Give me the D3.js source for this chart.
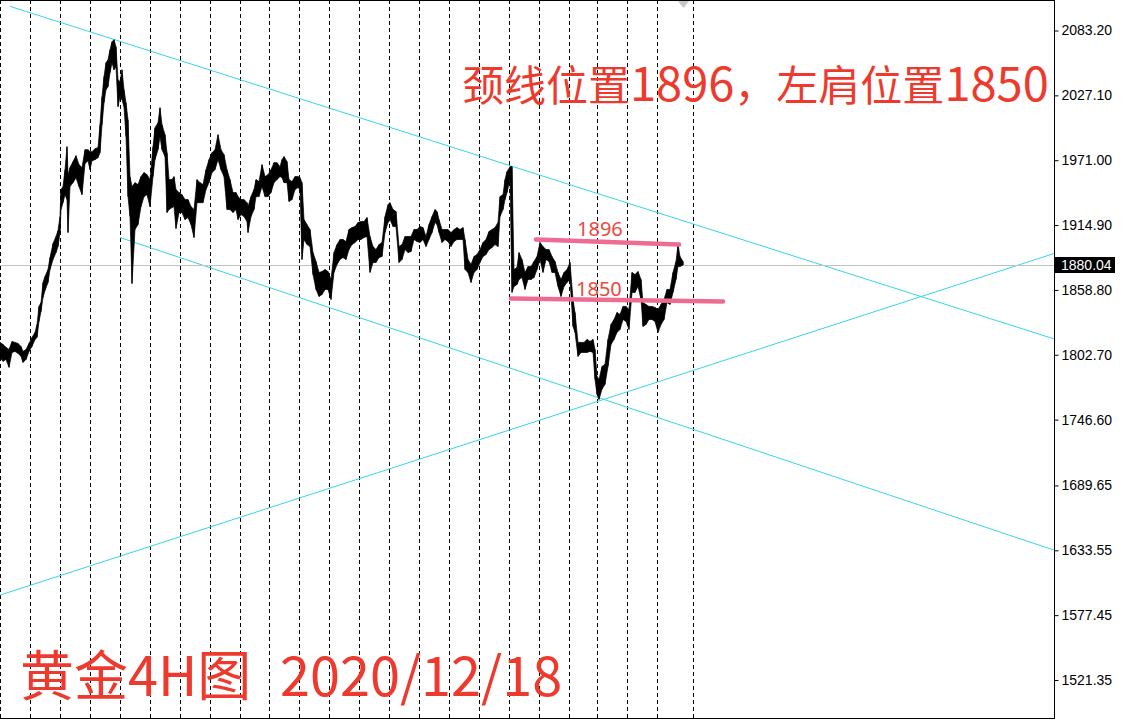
<!DOCTYPE html>
<html><head><meta charset="utf-8">
<script src="https://cdn.jsdelivr.net/npm/d3@7"></script>
<style>html,body{margin:0;padding:0;background:#fff;overflow:hidden}</style>
</head><body><svg id="c" width="1128" height="720"></svg>
<script>
// ---- data (bar index along the 4H time line, prices in USD) ----
const barIdx=[0,3,6,9,12,15,18,21,23,26,29,32,35,37,39,41,43,45,48,50,53,56,58,60,61,63,65,67,68,70,73,76,79,82,85,88,90,92,95,98,100,102,104,106,108,110,112,114,116,118,120,122,124,126,128,130,132,135,138,141,144,147,150,153,155,158,160,162,165,167,169,172,174,176,179,182,185,188,191,194,197,200,203,206,209,212,215,218,221,224,227,230,233,236,238,241,244,247,248,251,254,256,259,262,265,268,271,274,277,280,282,284,287,289,292,295,298,300,302,304,307,310,313,316,319,322,325,328,331,334,337,340,343,346,349,352,355,358,361,364,367,370,373,376,379,382,385,388,390,393,396,399,402,405,408,411,414,417,420,423,426,429,432,435,437,439,442,445,448,451,454,457,460,463,465,468,471,474,477,480,483,486,489,492,495,498,500,503,505,507,510,512,514,517,519,522,525,528,531,534,537,540,543,546,549,552,555,558,561,564,567,570,573,575,578,581,584,587,590,593,595,597,599,602,605,608,611,614,617,620,623,626,629,632,635,638,641,643,646,649,652,655,658,661,664,667,670,673,676,678,680,683];
const highs=[1813.4,1811.6,1809.1,1807.3,1814.2,1813.4,1812.5,1809.9,1805.6,1807.3,1812.5,1817.7,1822.0,1828.9,1844.5,1847.9,1865.2,1870.4,1876.4,1886.8,1898.9,1905.0,1910.1,1922.2,1945.6,1948.2,1962.8,1982.7,1958.5,1964.6,1969.8,1974.9,1967.2,1964.6,1980.1,1980.1,1978.4,1978.4,1981.0,1981.9,2001.7,2025.9,2043.2,2055.3,2057.9,2066.5,2073.4,2075.2,2069.1,2040.6,2038.9,2049.2,2032.0,2020.7,2006.0,1956.8,1948.2,1951.6,1949.9,1956.8,1960.3,1958.5,1954.2,1982.7,1999.1,2003.5,2016.4,2001.7,1993.1,1977.5,1954.2,1954.2,1956.8,1945.6,1943.0,1941.2,1936.9,1936.9,1930.9,1928.3,1954.2,1951.6,1949.9,1962.8,1971.5,1977.5,1980.1,1993.1,1980.1,1975.8,1962.8,1954.2,1943.0,1943.0,1939.5,1936.9,1936.9,1934.3,1930.9,1939.5,1945.6,1954.2,1952.5,1967.2,1956.8,1958.5,1962.8,1968.9,1968.9,1965.4,1971.5,1974.1,1969.8,1954.2,1952.5,1956.8,1956.8,1955.9,1951.6,1919.6,1915.3,1911.0,1891.1,1883.4,1873.9,1874.7,1876.4,1874.7,1867.8,1891.1,1898.0,1902.4,1902.4,1900.6,1911.0,1912.7,1913.6,1917.1,1917.9,1917.9,1921.4,1905.0,1896.3,1893.7,1898.0,1899.8,1922.2,1932.6,1934.3,1928.3,1926.6,1896.3,1898.0,1905.0,1905.0,1905.0,1911.0,1911.0,1913.6,1912.7,1905.0,1915.3,1922.2,1928.3,1926.6,1919.6,1911.0,1911.0,1911.0,1908.4,1911.0,1912.7,1911.0,1912.7,1902.4,1885.1,1880.8,1887.7,1889.4,1893.7,1899.8,1902.4,1909.3,1911.0,1912.7,1917.1,1939.5,1941.2,1954.2,1961.1,1965.4,1965.4,1876.4,1878.2,1891.1,1885.1,1873.9,1879.0,1879.0,1883.4,1887.7,1899.8,1896.3,1893.7,1893.7,1887.7,1883.4,1873.9,1867.8,1873.9,1876.4,1882.5,1850.5,1839.3,1813.4,1813.4,1813.4,1816.0,1814.2,1816.0,1807.3,1784.0,1781.4,1792.6,1794.4,1816.0,1828.9,1833.2,1839.3,1837.6,1844.5,1844.5,1841.9,1873.9,1872.1,1874.7,1867.8,1847.9,1846.2,1844.5,1844.5,1843.6,1841.9,1846.2,1850.5,1859.2,1859.2,1873.9,1883.4,1898.0,1887.7,1883.4];
const lows=[1800.4,1797.0,1798.7,1791.8,1804.7,1805.6,1803.9,1801.3,1796.1,1798.7,1805.6,1809.9,1816.0,1817.7,1831.5,1840.2,1852.3,1858.3,1865.2,1876.4,1885.1,1891.1,1896.3,1908.4,1928.3,1934.3,1941.2,1936.9,1908.4,1948.2,1951.6,1955.9,1948.2,1941.2,1968.0,1970.6,1962.8,1970.6,1971.5,1973.2,1977.5,2001.7,2020.7,2032.0,2034.6,2046.7,2055.3,2049.2,2051.8,2017.3,2025.9,2023.3,2017.3,1991.4,1939.5,1922.2,1864.3,1911.0,1915.3,1930.9,1939.5,1941.2,1930.9,1956.8,1971.5,1980.1,1991.4,1980.1,1974.1,1925.7,1928.3,1930.0,1930.9,1911.9,1925.7,1925.7,1919.6,1921.4,1915.3,1904.1,1934.3,1934.3,1934.3,1945.6,1951.6,1960.3,1962.8,1971.5,1962.8,1956.8,1928.3,1928.3,1925.7,1928.3,1919.6,1924.0,1922.2,1917.9,1908.4,1922.2,1928.3,1939.5,1939.5,1948.2,1939.5,1939.5,1943.0,1951.6,1954.2,1956.8,1955.9,1951.6,1951.6,1935.2,1936.9,1945.6,1947.3,1945.6,1885.1,1902.4,1898.0,1896.3,1872.1,1859.2,1853.1,1854.8,1859.2,1859.2,1850.5,1873.9,1880.8,1885.1,1886.8,1885.1,1893.7,1898.0,1899.8,1902.4,1902.4,1904.1,1905.0,1873.9,1882.5,1882.5,1886.8,1887.7,1908.4,1917.1,1919.6,1913.6,1913.6,1882.5,1885.1,1893.7,1891.1,1892.0,1902.4,1900.6,1899.8,1902.4,1896.3,1902.4,1908.4,1917.1,1915.3,1908.4,1899.8,1902.4,1900.6,1896.3,1900.6,1902.4,1902.4,1902.4,1876.4,1873.9,1865.2,1873.9,1876.4,1882.5,1887.7,1889.4,1893.7,1895.4,1898.0,1896.3,1922.2,1928.3,1936.9,1943.0,1954.2,1856.6,1861.8,1863.5,1867.8,1869.5,1859.2,1867.8,1867.8,1869.5,1876.4,1885.1,1873.9,1885.1,1883.4,1873.9,1873.9,1861.8,1853.1,1861.8,1865.2,1867.8,1827.2,1822.0,1801.3,1804.7,1804.7,1804.7,1805.6,1804.7,1781.4,1768.4,1764.1,1772.8,1777.1,1792.6,1811.6,1816.0,1822.0,1824.6,1833.2,1831.5,1824.6,1856.6,1856.6,1861.8,1850.5,1827.2,1828.9,1833.2,1833.2,1831.5,1822.0,1828.9,1833.2,1847.9,1846.2,1856.6,1867.8,1879.0,1879.0,1880.3];
const lastPrice=1880.04;
const priceTicks=[2083.20,2027.10,1971.00,1914.90,1858.80,1802.70,1746.60,1689.65,1633.55,1577.45,1521.35];
const separatorBars=[0,30,60,90,120,150,180,210,240,269,299,329,359,389,419,449,479,509,539,569,597,627,657,693];
const trendUpper=[[10,2104.1],[1054,1816.4]];
const trendLower=[[120,1904.1],[1054,1633.7]];
const trendRise=[[0,1594.8],[1054,1890.3]];
const necklineLine=[[536,1902.4],[679,1898.0]];
const shoulderLine=[[511,1851.4],[723,1848.8]];
const necklineLabel={text:"1896",bar:577,price:1905.4};
const shoulderLabel={text:"1850",bar:576,price:1853.5};
const titleParts=[["颈线位置",0],["1896",1],["，左肩位置",0],["1850",1]];
const footerName="黄金4H图";
const footerDate="2020/12/18";

// ---- drawing ----
const svg=d3.select("#c");
const plotR=1054, plotB=718;
const x=d3.scaleLinear().domain([0,1054]).range([0,1054]);
const y=d3.scaleLinear().domain([1521.35,2083.20]).range([680,30.5]);
const red="#ee3a2e";

svg.append("rect").attr("width",1128).attr("height",720).attr("fill","#fff");

// period separators
svg.append("g").selectAll("line").data(separatorBars).join("line")
  .attr("x1",d=>Math.round(x(d))+0.5).attr("x2",d=>Math.round(x(d))+0.5)
  .attr("y1",0).attr("y2",plotB)
  .attr("stroke","#000").attr("stroke-width",1).attr("stroke-dasharray","4,3")
  .attr("shape-rendering","crispEdges");

// trend lines
const ln=d3.line().x(d=>x(d[0])).y(d=>y(d[1]));
svg.append("g").selectAll("path").data([trendUpper,trendLower,trendRise]).join("path")
  .attr("d",ln).attr("fill","none").attr("stroke","#34d6e8").attr("stroke-width",1);

// last price line
svg.append("line").attr("x1",0).attr("x2",plotR).attr("y1",Math.round(y(lastPrice))+0.5).attr("y2",Math.round(y(lastPrice))+0.5)
  .attr("stroke","#c0c0c0").attr("stroke-width",1).attr("shape-rendering","crispEdges");

// price bars (high-low band)
const area=d3.area().x((d,i)=>x(barIdx[i])).y0((d,i)=>y(lows[i])).y1((d,i)=>y(highs[i]));
svg.append("path").datum(barIdx).attr("d",area).attr("fill","#000").attr("stroke","#000").attr("stroke-width",0.7).attr("stroke-linejoin","round");
svg.append("g").selectAll("line").data(barIdx).join("line")
  .attr("x1",d=>x(d)).attr("x2",d=>x(d))
  .attr("y1",(d,i)=>y(highs[i])).attr("y2",(d,i)=>y(lows[i]))
  .attr("stroke","#000").attr("stroke-width",1);

// pink annotation lines
svg.append("g").selectAll("path").data([necklineLine,shoulderLine]).join("path")
  .attr("d",ln).attr("fill","none").attr("stroke","#ee6c93").attr("stroke-width",4.5).attr("stroke-linecap","round");
svg.append("g").selectAll("text").data([necklineLabel,shoulderLabel]).join("text")
  .attr("x",d=>x(d.bar)).attr("y",d=>y(d.price))
  .attr("font-family","'Noto Sans',sans-serif").attr("font-size",20).attr("fill","#e94a40")
  .text(d=>d.text);

// title
const t=svg.append("text").attr("x",462).attr("y",101).attr("font-family","'Noto Sans CJK SC',sans-serif").attr("fill",red);
titleParts.forEach(p=>t.append("tspan").attr("font-size",p[1]?47:42).text(p[0]));

// footer
svg.append("text").attr("x",20).attr("y",696).attr("font-family","'Noto Sans CJK SC',sans-serif").attr("font-size",54).attr("fill",red).text(footerName);
svg.append("text").attr("x",280).attr("y",696).attr("font-family","'Noto Sans CJK SC',sans-serif").attr("font-size",54).attr("fill",red).text(footerDate);

// shift marker
svg.append("path").attr("d",`M${x(677)},0L${x(690)},0L${x(683.5)},8Z`).attr("fill","#c8c8c8");

// frame
svg.append("path").attr("d",`M0,0.5H${plotR+0.5}V${plotB+0.5}H0`).attr("fill","none").attr("stroke","#000").attr("shape-rendering","crispEdges");

// price axis
const ax=svg.append("g").attr("transform",`translate(${plotR+0.5},0)`)
  .call(d3.axisRight(y).tickValues(priceTicks).tickSize(4).tickPadding(3).tickFormat(d3.format(".2f")));
ax.select(".domain").remove();
ax.selectAll("text").attr("font-family","'Liberation Sans',Arial,sans-serif").attr("font-size",14).attr("fill","#000");
ax.selectAll("line").attr("stroke","#000");

// last price label
const ly=y(lastPrice);
svg.append("rect").attr("x",plotR+1).attr("y",Math.round(ly)-8).attr("width",60).attr("height",16).attr("fill","#000");
svg.append("text").attr("x",plotR+7).attr("y",ly).attr("dy","0.35em").attr("font-family","'Liberation Sans',Arial,sans-serif").attr("font-size",14).attr("fill","#fff").text(lastPrice.toFixed(2));
</script></body></html>
